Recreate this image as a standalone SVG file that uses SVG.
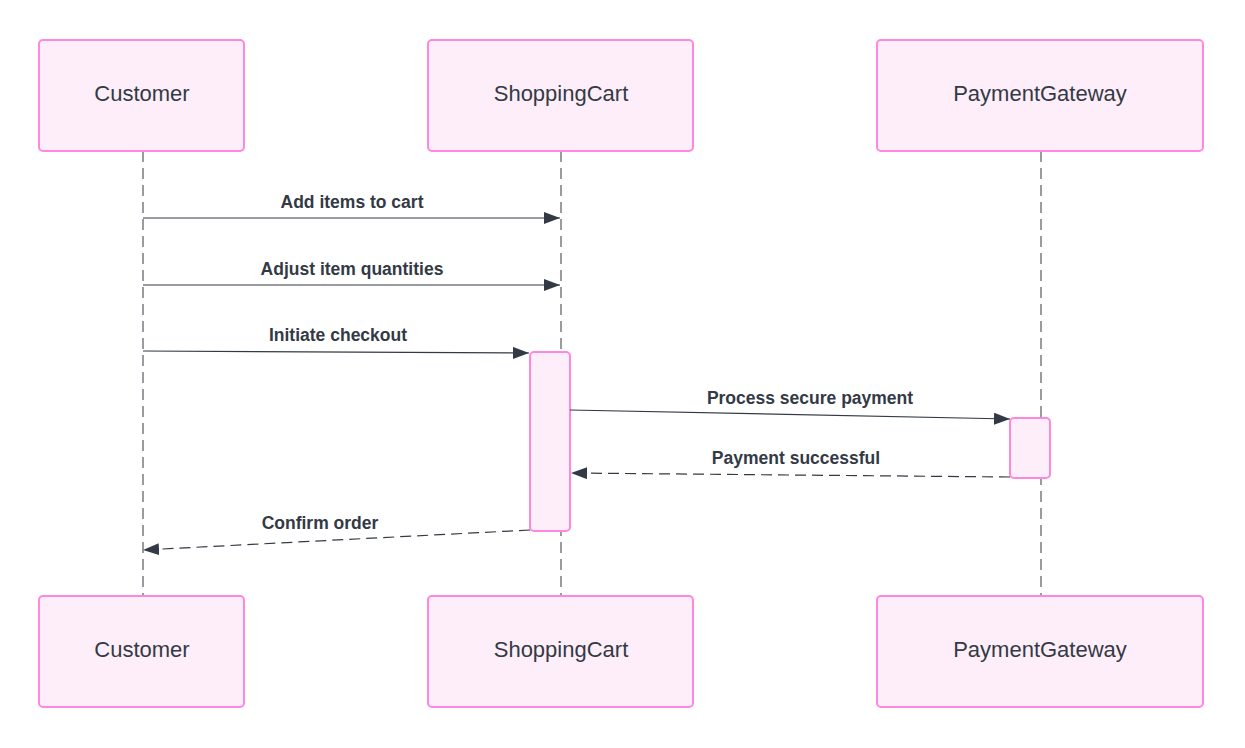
<svg xmlns="http://www.w3.org/2000/svg" width="1245" height="748" viewBox="0 0 1245 748">
<style>
.actor{fill:#feeefa;stroke:#ff87e0;stroke-width:2}
.act{fill:#feeefa;stroke:#ff87e0;stroke-width:2}
.name{font-family:"Liberation Sans",Arial,sans-serif;font-size:22px;fill:#333a45;text-anchor:middle;dominant-baseline:central}
.lbl{font-family:"Liberation Sans",Arial,sans-serif;font-size:17.5px;font-weight:bold;fill:#333a45;text-anchor:middle}
.life{stroke:#333a45;stroke-width:1;stroke-dasharray:11 6;fill:none}
.msg{stroke:#333a45;stroke-width:1.2;fill:none}
.dash{stroke-dasharray:11 6}
</style>
<defs>
<marker id="ah" viewBox="0 0 16 12" refX="16" refY="6" markerWidth="16" markerHeight="12" markerUnits="userSpaceOnUse" orient="auto">
<path d="M0,0 L16,6 L0,12 Z" fill="#333a45"/>
</marker>
</defs>
<g id="lifelines">
<line class="life" x1="143" y1="151" x2="143" y2="596"/>
<line class="life" x1="561" y1="151" x2="561" y2="596"/>
<line class="life" x1="1041" y1="151" x2="1041" y2="596"/>
</g>
<g id="customer-top"><rect class="actor" x="39" y="40" width="205" height="111" rx="4"/><text class="name" x="142" y="93">Customer</text></g>
<g id="cart-top"><rect class="actor" x="428" y="40" width="265" height="111" rx="4"/><text class="name" x="561" y="93">ShoppingCart</text></g>
<g id="gateway-top"><rect class="actor" x="877" y="40" width="326" height="111" rx="4"/><text class="name" x="1040" y="93">PaymentGateway</text></g>
<g id="customer-bottom"><rect class="actor" x="39" y="596" width="205" height="111" rx="4"/><text class="name" x="142" y="649">Customer</text></g>
<g id="cart-bottom"><rect class="actor" x="428" y="596" width="265" height="111" rx="4"/><text class="name" x="561" y="649">ShoppingCart</text></g>
<g id="gateway-bottom"><rect class="actor" x="877" y="596" width="326" height="111" rx="4"/><text class="name" x="1040" y="649">PaymentGateway</text></g>
<g id="cart-activation"><rect class="act" x="530" y="352" width="40" height="179" rx="4"/></g>
<g id="gateway-activation"><rect class="act" x="1010" y="418" width="40" height="60" rx="4"/></g>
<g id="connectors">
<line class="msg" x1="143" y1="218" x2="560" y2="218" marker-end="url(#ah)"/>
<text class="lbl" x="352" y="208">Add items to cart</text>
<line class="msg" x1="143" y1="285" x2="560" y2="285" marker-end="url(#ah)"/>
<text class="lbl" x="352" y="275">Adjust item quantities</text>
<line class="msg" x1="143" y1="351" x2="529" y2="353" marker-end="url(#ah)"/>
<text class="lbl" x="338" y="341">Initiate checkout</text>
<line class="msg" x1="570" y1="410" x2="1010" y2="419" marker-end="url(#ah)"/>
<text class="lbl" x="810" y="404">Process secure payment</text>
<line class="msg dash" x1="1010" y1="477" x2="571" y2="473" marker-end="url(#ah)"/>
<text class="lbl" x="796" y="464">Payment successful</text>
<line class="msg dash" x1="530" y1="530" x2="143" y2="550" marker-end="url(#ah)"/>
<text class="lbl" x="320" y="529">Confirm order</text>
</g>
</svg>
